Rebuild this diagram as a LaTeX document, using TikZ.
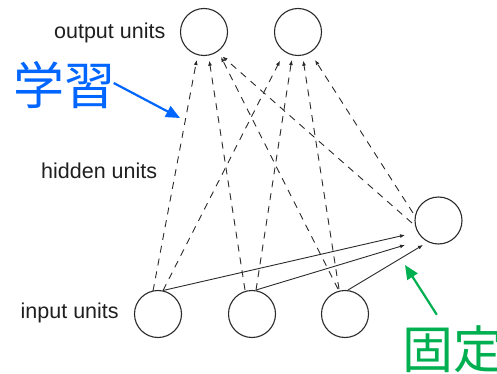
\documentclass[tikz,border=0pt]{standalone}
\usepackage{fontspec}
\setmainfont{Liberation Sans}
\newfontfamily\jp{Noto Sans CJK JP}
\usetikzlibrary{arrows.meta,calc}
\definecolor{lineg}{HTML}{2A2A2A}
\definecolor{jblue}{HTML}{0066FF}
\definecolor{jgreen}{HTML}{00B050}
\begin{document}
\begin{tikzpicture}[x=1pt,y=-1pt,
  unit/.style={circle,draw=lineg,line width=1.1pt,minimum size=47pt,inner sep=0pt},
  dsh/.style={draw=lineg,line width=0.9pt,dash pattern=on 7pt off 6pt,-{Latex[length=5pt,width=4pt]}},
  sol/.style={draw=lineg,line width=0.9pt,-{Latex[length=5pt,width=4pt]}},
  lbl/.style={font=\fontsize{21.5}{24}\selectfont,inner sep=0pt,text=black!88},
  jlbl/.style={font=\jp\fontsize{51}{56}\selectfont,inner sep=0pt},
  barrow/.style={draw=jblue,line width=2.2pt,-{Triangle[length=14pt,width=12pt]}},
  garrow/.style={draw=jgreen,line width=2.2pt,-{Triangle[length=14pt,width=12pt]}}]
\useasboundingbox (0,0) rectangle (497,374);

% units
\node[unit] (O1) at (204,32) {};
\node[unit] (O2) at (298,32) {};
\node[unit] (H) at (438.5,220.5) {};
\node[unit] (I1) at (158,314) {};
\node[unit] (I2) at (252,314) {};
\node[unit] (I3) at (345,314) {};

% labels
\node[lbl,anchor=base east] (lo) at (165.5,38.5) {output units};
\node[lbl,anchor=base west] (lh) at (41,178) {hidden units};
\node[lbl,anchor=base west] (li) at (20.5,318) {input units};

% dashed (learned) connections to outputs
\draw[dsh] ($(I1.center)+(-5,-23)$) -- ($(O1.center)+(-7.3,28)$);
\draw[dsh] ($(I1.center)+(5,-23.5)$) -- ($(O2.center)+(-18,28.7)$);
\draw[dsh] ($(I2.center)+(-7,-24)$) -- ($(O1.center)+(5.3,28.7)$);
\draw[dsh] ($(I2.center)+(4,-24)$) -- ($(O2.center)+(-6.3,28)$);
\draw[dsh] ($(I3.center)+(-7,-25)$) -- ($(O1.center)+(17,25)$);
\draw[dsh] ($(I3.center)+(-6,-25)$) -- ($(O2.center)+(5.3,28.7)$);
\draw[dsh] ($(H.center)+(-26.5,2.5)$) -- ($(O1.center)+(18.5,24.5)$);
\draw[dsh] ($(H.center)+(-25.5,-7.5)$) -- ($(O2.center)+(17,28)$);

% solid (fixed) connections to hidden unit
\draw[sol] ($(I1.center)+(5,-23.5)$) -- ($(H.center)+(-33.5,14.5)$);
\draw[sol] ($(I2.center)+(4,-24)$) -- ($(H.center)+(-33.5,24.5)$);
\draw[sol] ($(I3.center)+(3,-24)$) -- ($(H.center)+(-15.5,24.5)$);

% annotations
\node[jlbl,text=jblue] (learn) at (64.5,85) {学習};
\coordinate (bt) at (180,118);
\draw[barrow] ($(learn.east)+(-2,-2)$) -- (bt);

\node[jlbl,text=jgreen] (fix) at (453.5,349) {固定};
\coordinate (gt) at (405,265);
\draw[garrow] ($(fix.north west)+(34.5,-10.5)$) -- (gt);
\end{tikzpicture}
\end{document}
